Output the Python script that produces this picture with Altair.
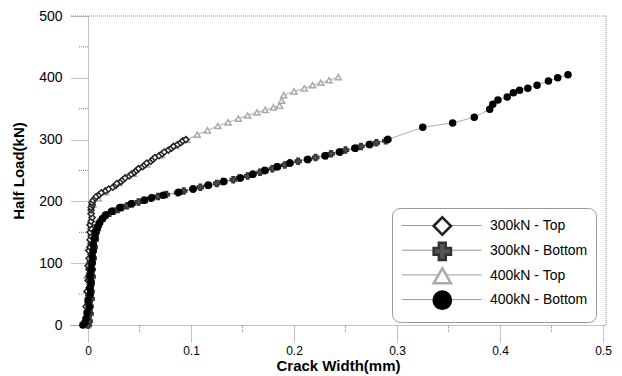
import altair as alt
import pandas as pd

SERIES = ["300kN - Top", "300kN - Bottom", "400kN - Top", "400kN - Bottom"]
SERIES_LINE = [s + " (line)" for s in SERIES]

# 300kN - Top (diamonds)
T300_LOAD = [0, 6, 12, 18, 24, 30, 36, 42, 48, 54, 60, 66, 72, 78, 84, 90, 96, 102, 108, 114,
             120, 126, 132, 138, 144, 150, 156, 162, 168, 174, 180, 186, 190, 194, 198, 202, 205,
             208, 211, 214, 217, 220, 223, 226, 229, 232, 235, 238, 241, 244, 247, 250, 253, 256,
             259, 262, 265, 268, 271, 274, 277, 280, 283, 286, 289, 292, 295, 298, 300]
T300_CW = [0.000, 0.001, -0.001, 0.000, 0.001, -0.002, 0.000, 0.002, 0.001, -0.001, 0.001, 0.002,
           0.000, 0.001, 0.002, 0.001, 0.000, 0.002, 0.001, 0.003, 0.001, 0.002, 0.003, 0.002,
           0.003, 0.002, 0.003, 0.002, 0.003, 0.004, 0.003, 0.003, 0.003, 0.004, 0.004, 0.005,
           0.007, 0.008, 0.011, 0.013, 0.017, 0.020, 0.024, 0.027, 0.028, 0.032, 0.034, 0.036,
           0.040, 0.042, 0.045, 0.047, 0.049, 0.053, 0.055, 0.057, 0.061, 0.063, 0.065, 0.069,
           0.072, 0.074, 0.078, 0.081, 0.083, 0.087, 0.090, 0.092, 0.095]

# 300kN - Bottom (crosses)
B300_LOAD = [0, 6, 12, 18, 24, 30, 36, 42, 48, 54, 60, 66, 72, 78, 84, 90, 96, 102, 108, 114, 120,
             126, 132, 138, 144, 150, 155, 160, 165, 170, 174, 178, 181, 184, 187, 190, 193, 196,
             199, 202, 205, 208, 211, 214, 217, 220, 223, 226, 229, 232, 235, 238, 241, 244, 247,
             250, 253, 256, 259, 262, 265, 268, 271, 274, 277, 280, 283, 286, 289, 292, 295, 298,
             300]
B300_CW = [0.000, 0.001, 0.000, 0.002, 0.001, 0.002, 0.001, 0.003, 0.002, 0.003, 0.002, 0.003,
           0.002, 0.004, 0.003, 0.004, 0.003, 0.004, 0.005, 0.004, 0.005, 0.006, 0.005, 0.007,
           0.007, 0.008, 0.009, 0.010, 0.011, 0.013, 0.015, 0.018, 0.021, 0.025, 0.029, 0.033,
           0.038, 0.043, 0.049, 0.054, 0.061, 0.068, 0.076, 0.087, 0.093, 0.102, 0.109, 0.116,
           0.125, 0.131, 0.141, 0.147, 0.155, 0.160, 0.167, 0.171, 0.179, 0.183, 0.191, 0.196,
           0.204, 0.214, 0.221, 0.231, 0.236, 0.245, 0.250, 0.260, 0.265, 0.274, 0.280, 0.289,
           0.291]

# 400kN - Top (triangles)
T400_LOAD = [0, 10, 20, 35, 50, 65, 80, 95, 110, 125, 140, 155, 170, 185, 195, 205, 215, 230, 245,
             260, 275, 290, 300, 308, 315, 322, 328, 334, 339, 344, 348, 352, 355, 363, 372, 378,
             383, 388, 392, 396, 401]
T400_CW = [0.000, -0.002, 0.001, -0.001, 0.000, 0.002, -0.001, 0.001, 0.002, 0.000, 0.002, 0.002,
           0.003, 0.003, 0.005, 0.010, 0.017, 0.030, 0.044, 0.057, 0.071, 0.085, 0.096, 0.106,
           0.116, 0.126, 0.136, 0.146, 0.155, 0.164, 0.172, 0.180, 0.186, 0.188, 0.190, 0.200,
           0.210, 0.218, 0.226, 0.234, 0.243]

# 400kN - Bottom (filled circles)
B400_LOAD = [0, 4, 10, 20, 30, 40, 50, 60, 70, 80, 90, 100, 110, 120, 130, 140, 150, 158, 165,
             172, 178, 184, 190, 196, 202, 206, 210, 215, 220, 226, 232, 238, 244, 250, 256, 262,
             268, 274, 280, 286, 292, 300, 320, 327, 336, 349, 357, 364, 369, 376, 380, 383, 388,
             395, 400, 405]
B400_CW = [-0.005, -0.003, -0.002, -0.001, 0.001, 0.000, 0.002, 0.002, 0.003, 0.002, 0.003, 0.004,
           0.004, 0.005, 0.005, 0.006, 0.007, 0.009, 0.011, 0.014, 0.017, 0.023, 0.031, 0.042,
           0.055, 0.062, 0.073, 0.088, 0.102, 0.117, 0.132, 0.148, 0.160, 0.172, 0.184, 0.196,
           0.213, 0.230, 0.244, 0.259, 0.273, 0.291, 0.325, 0.354, 0.375, 0.390, 0.393, 0.398,
           0.407, 0.413, 0.419, 0.427, 0.436, 0.447, 0.456, 0.466]

X_TICKS = [0, 0.1, 0.2, 0.3, 0.4, 0.5]
X_MINOR = [0.05, 0.15, 0.25, 0.35, 0.45]
Y_TICKS = [0, 100, 200, 300, 400, 500]
Y_MINOR = [50, 150, 250, 350, 450]
X_DOMAIN = [-0.0175, 0.5029]
Y_DOMAIN = [0, 500]

rows = []
for name, xs, ys in [("400kN - Top", T400_CW, T400_LOAD),
                     ("300kN - Top", T300_CW, T300_LOAD),
                     ("300kN - Bottom", B300_CW, B300_LOAD),
                     ("400kN - Bottom", B400_CW, B400_LOAD)]:
    for i, (x, y) in enumerate(zip(xs, ys)):
        rows.append({"series": name, "series_l": name + " (line)", "cw": x, "load": y, "idx": i})
df = pd.DataFrame(rows)

W, H = 536, 309
FONT = "Liberation Sans"
GRAY = "#888"

xscale = alt.Scale(domain=X_DOMAIN, nice=False, zero=False)
yscale = alt.Scale(domain=Y_DOMAIN, nice=False, zero=False)
xaxis = alt.Axis(values=X_TICKS, title="Crack Width(mm)", grid=False, tickSize=17,
                 labelPadding=3, labelFontSize=12, titlePadding=2, format="~g",
                 domainDash=[1, 1], tickDash=[1, 1])
yaxis = alt.Axis(values=Y_TICKS, title="Half Load(kN)", grid=False, tickSize=18,
                 labelPadding=8, labelFontSize=14, offset=-18, titlePadding=12, format="d",
                 domainDash=[1, 1], tickDash=[1, 1])

x_enc = alt.X("cw:Q", scale=xscale, axis=xaxis)
y_enc = alt.Y("load:Q", scale=yscale, axis=yaxis)

legA = alt.Legend(title=None, orient="none", legendX=322, legendY=192, padding=8,
                  rowPadding=-2.6, symbolSize=300, symbolStrokeWidth=2.5, symbolOffset=32.3,
                  labelOffset=37.7, labelFontSize=14, labelFont=FONT, labelColor="black",
                  strokeColor="#999", cornerRadius=8, zindex=1)
legB = alt.Legend(title=None, orient="none", legendX=322, legendY=192, padding=8,
                  rowPadding=7.7, symbolSize=300, symbolType="M-4.6,0H4.6",
                  symbolStrokeWidth=1, symbolOffset=32.3, labelOffset=37.7,
                  labelFontSize=14, labelFont=FONT, labelExpr="''", zindex=0)

lines = alt.Chart(df).mark_line(strokeWidth=0.8).encode(
    x=x_enc, y=y_enc,
    color=alt.Color("series_l:N", scale=alt.Scale(domain=SERIES_LINE, range=["#999"] * 4),
                    legend=legB),
    order=alt.Order("idx:Q"),
)

points = alt.Chart(df).mark_point(size=36, strokeWidth=1.5, opacity=1).encode(
    x=x_enc, y=y_enc,
    shape=alt.Shape("series:N", scale=alt.Scale(domain=SERIES,
                    range=["diamond", "cross", "triangle-up", "circle"]), legend=legA),
    fill=alt.Fill("series:N", scale=alt.Scale(domain=SERIES,
                  range=["white", "#555", "white", "black"]), legend=legA),
    stroke=alt.Stroke("series:N", scale=alt.Scale(domain=SERIES,
                      range=["#222", "#333", "#aaa", "black"]), legend=legA),
)

frame_top = alt.Chart(pd.DataFrame({"load": [Y_DOMAIN[1]]})).mark_rule(
    color=GRAY, strokeDash=[1, 1]).encode(y=y_enc)
frame_right = alt.Chart(pd.DataFrame({"cw": [X_DOMAIN[1]]})).mark_rule(
    color=GRAY, strokeDash=[1, 1]).encode(x=x_enc)
y_minor = alt.Chart(pd.DataFrame({"load": Y_MINOR})).mark_rule(
    color=GRAY, strokeDash=[1, 1]).encode(y=y_enc, x=alt.value(9), x2=alt.value(18))
x_minor = alt.Chart(pd.DataFrame({"cw": X_MINOR})).mark_rule(
    color=GRAY, strokeDash=[1, 1]).encode(x=x_enc, y=alt.value(H), y2=alt.value(H + 8))

chart = alt.layer(frame_top, frame_right, y_minor, x_minor, lines, points).properties(
    width=W, height=H,
    padding={"left": 70, "top": 16, "right": 16, "bottom": 51},
    autosize=alt.AutoSizeParams(type="none"),
    background="white",
).configure_view(strokeWidth=0).configure_axis(
    labelFont=FONT, titleFont=FONT, titleFontSize=15,
    titleFontWeight="bold", labelColor="black", titleColor="black",
    domainColor=GRAY, tickColor=GRAY,
).configure_legend(labelFont=FONT)

chart.save("out.html", embed_options={"renderer": "svg", "actions": False})
